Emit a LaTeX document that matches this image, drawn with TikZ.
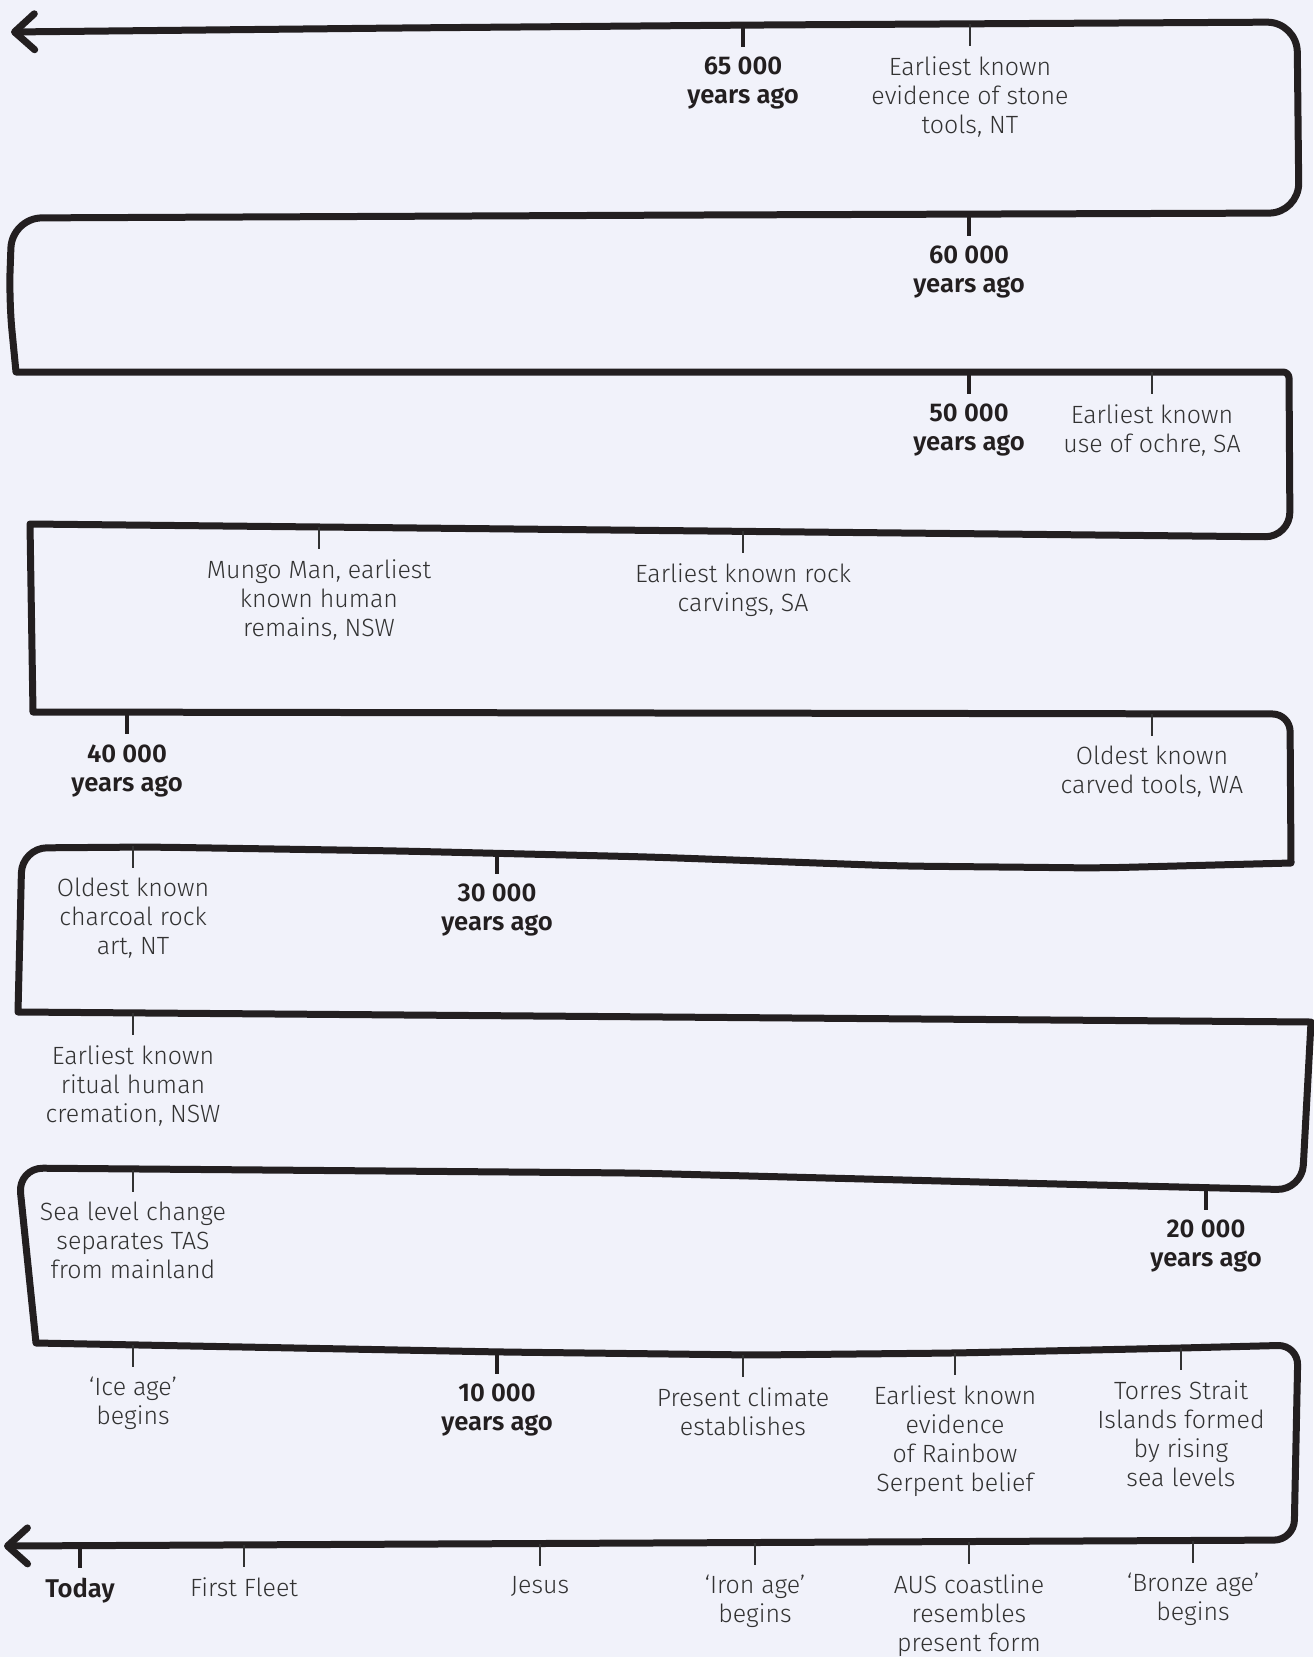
\documentclass[tikz,border=0pt]{standalone}
\usepackage{fontspec}
\setmainfont{Fira Sans}[UprightFont=* Light, BoldFont=* SemiBold]
\usepackage{xcolor}
\definecolor{bgblue}{RGB}{241,242,250}
\definecolor{inkline}{RGB}{35,31,32}
\definecolor{textgrey}{RGB}{50,50,50}
\usetikzlibrary{positioning,arrows.meta}

\begin{document}
\begin{tikzpicture}[x=0.02cm,y=-0.02cm,
    endbarb/.tip={Straight Barb[length=0.4cm,width=0.72cm,round]},
    timeline/.style={draw=inkline,line width=0.14cm,line cap=round,line join=round,endbarb-endbarb},
    majortick/.style={draw=inkline,line width=0.08cm,shorten >=0.2cm},
    minortick/.style={draw=textgrey,line width=0.032cm,shorten >=0.2cm},
    event/.style={align=center,inner sep=0pt,text=textgrey,font=\fontsize{14.2}{16.5}\selectfont},
    era/.style={event,text=inkline,font=\fontsize{14.6}{16.5}\selectfont\bfseries}]
    \useasboundingbox (0,0) rectangle (1313,1657);
    \fill[bgblue] (0,0) rectangle (1313,1657);
    % the winding line, 65 000 years ago at the top, today at the bottom
    \draw[timeline] (11,32) [rounded corners=0.6cm] -- (400,28) -- (760,25) -- (1297,22)
      -- (1299,213) -- (700,215) -- (12,218) -- (9,300) [sharp corners] -- (16,372)
      [rounded corners=0.12cm] -- (1289,372) [rounded corners=0.5cm] -- (1290,537)
      [sharp corners] -- (30,524) -- (33,712)
      [rounded corners=0.35cm] -- (1290,714) [sharp corners] -- (1291,863)
      [rounded corners=0.5cm] -- (1100,868) -- (900,866) -- (650,857)
      -- (400,851) -- (150,847) -- (22,848) [sharp corners] -- (18,1012)
      -- (1311,1022) [rounded corners=0.5cm] -- (1302,1190)
      -- (1057,1184) -- (634,1173) -- (18,1168) [sharp corners] -- (36,1343)
      [rounded corners=0.4cm] -- (502,1352) -- (754,1355) -- (955,1353)
      -- (1181,1348) -- (1298,1345) -- (1294,1540) -- (4,1546);
    % row 1
    \coordinate (c65) at (743,25);
    \node[era, below=0.64cm of c65] (n65) {65 000\\years ago};
    \draw[majortick] (c65) -- (n65.north);
    \coordinate (cstone) at (970,24);
    \node[event, below=0.64cm of cstone] (nstone) {Earliest known\\evidence of stone\\tools, NT};
    \draw[minortick] (cstone) -- (nstone.north);
    % row 2
    \coordinate (c60) at (969,214);
    \node[era, below=0.64cm of c60] (n60) {60 000\\years ago};
    \draw[majortick] (c60) -- (n60.north);
    % row 3
    \coordinate (c50) at (969,372);
    \node[era, below=0.64cm of c50] (n50) {50 000\\years ago};
    \draw[majortick] (c50) -- (n50.north);
    \coordinate (cochre) at (1152,372);
    \node[event, below=0.64cm of cochre] (nochre) {Earliest known\\use of ochre, SA};
    \draw[minortick] (cochre) -- (nochre.north);
    % row 4
    \coordinate (cmungo) at (319,527);
    \node[event, below=0.64cm of cmungo] (nmungo) {Mungo Man, earliest\\known human\\remains, NSW};
    \draw[minortick] (cmungo) -- (nmungo.north);
    \coordinate (ccarve) at (743,531);
    \node[event, below=0.64cm of ccarve] (ncarve) {Earliest known rock\\carvings, SA};
    \draw[minortick] (ccarve) -- (ncarve.north);
    % row 5
    \coordinate (c40) at (127,712);
    \node[era, below=0.64cm of c40] (n40) {40 000\\years ago};
    \draw[majortick] (c40) -- (n40.north);
    \coordinate (ctools) at (1152,714);
    \node[event, below=0.64cm of ctools] (ntools) {Oldest known\\carved tools, WA};
    \draw[minortick] (ctools) -- (ntools.north);
    % row 6
    \coordinate (ccharc) at (133,846);
    \node[event, below=0.64cm of ccharc] (ncharc) {Oldest known\\charcoal rock\\art, NT};
    \draw[minortick] (ccharc) -- (ncharc.north);
    \coordinate (c30) at (497,852);
    \node[era, below=0.64cm of c30] (n30) {30 000\\years ago};
    \draw[majortick] (c30) -- (n30.north);
    % row 7
    \coordinate (ccrem) at (133,1013);
    \node[event, below=0.64cm of ccrem] (ncrem) {Earliest known\\ritual human\\cremation, NSW};
    \draw[minortick] (ccrem) -- (ncrem.north);
    % row 8
    \coordinate (ctas) at (133,1170);
    \node[event, below=0.64cm of ctas] (ntas) {Sea level change\\separates TAS\\from mainland};
    \draw[minortick] (ctas) -- (ntas.north);
    \coordinate (c20) at (1206,1188);
    \node[era, below=0.64cm of c20] (n20) {20 000\\years ago};
    \draw[majortick] (c20) -- (n20.north);
    % row 9
    \coordinate (cice) at (133,1345);
    \node[event, below=0.64cm of cice] (nice) {‘Ice age’\\begins};
    \draw[minortick] (cice) -- (nice.north);
    \coordinate (c10) at (497,1352);
    \node[era, below=0.64cm of c10] (n10) {10 000\\years ago};
    \draw[majortick] (c10) -- (n10.north);
    \coordinate (cclim) at (743,1355);
    \node[event, below=0.64cm of cclim] (nclim) {Present climate\\establishes};
    \draw[minortick] (cclim) -- (nclim.north);
    \coordinate (csnake) at (955,1353);
    \node[event, below=0.64cm of csnake] (nsnake) {Earliest known\\evidence\\of Rainbow\\Serpent belief};
    \draw[minortick] (csnake) -- (nsnake.north);
    \coordinate (ctorres) at (1181,1348);
    \node[event, below=0.64cm of ctorres] (ntorres) {Torres Strait\\Islands formed\\by rising\\sea levels};
    \draw[minortick] (ctorres) -- (ntorres.north);
    % row 10
    \coordinate (ctoday) at (80,1546);
    \node[era, below=0.64cm of ctoday] (ntoday) {Today};
    \draw[majortick] (ctoday) -- (ntoday.north);
    \coordinate (cfleet) at (244,1545);
    \node[event, below=0.64cm of cfleet] (nfleet) {First Fleet};
    \draw[minortick] (cfleet) -- (nfleet.north);
    \coordinate (cjesus) at (540,1544);
    \node[event, below=0.64cm of cjesus] (njesus) {Jesus};
    \draw[minortick] (cjesus) -- (njesus.north);
    \coordinate (ciron) at (755,1543);
    \node[event, below=0.64cm of ciron] (niron) {‘Iron age’\\begins};
    \draw[minortick] (ciron) -- (niron.north);
    \coordinate (ccoast) at (969,1542);
    \node[event, below=0.64cm of ccoast] (ncoast) {AUS coastline\\resembles\\present form};
    \draw[minortick] (ccoast) -- (ncoast.north);
    \coordinate (cbronze) at (1193,1541);
    \node[event, below=0.64cm of cbronze] (nbronze) {‘Bronze age’\\begins};
    \draw[minortick] (cbronze) -- (nbronze.north);
\end{tikzpicture}
\end{document}
